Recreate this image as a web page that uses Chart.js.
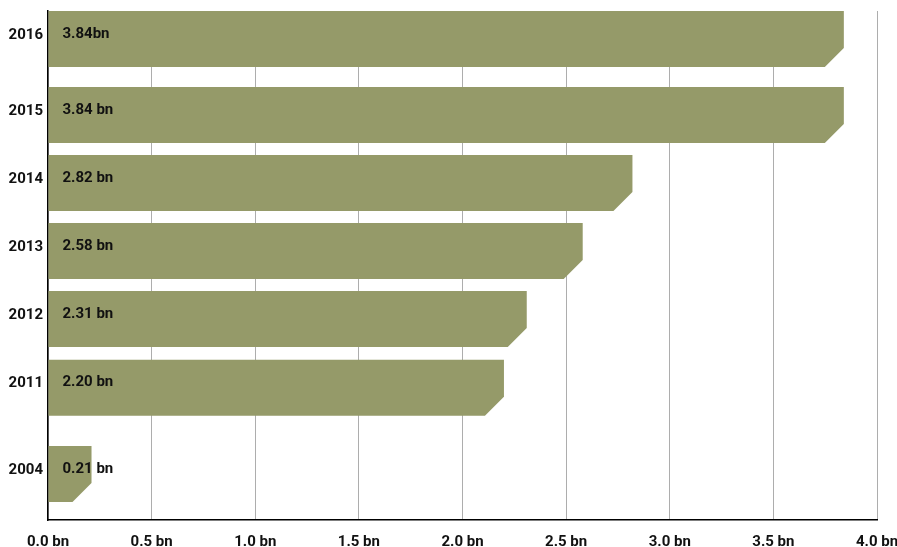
<!DOCTYPE html>
<html lang="en">
<head>
    <meta charset="UTF-8">
    <title>Annual totals, 2004 and 2011–2016</title>
    <script src="https://cdn.jsdelivr.net/npm/chart.js"></script>
    <style>
        html, body { margin: 0; padding: 0; background: #fff; }
        .chart-box { width: 897px; height: 547px; position: relative; }
    </style>
</head>
<body>
<div class="chart-box">
    <canvas id="totalsChart"></canvas>
</div>
<script>
    // Years shown, top to bottom
    const years = ['2016', '2015', '2014', '2013', '2012', '2011', '2004'];
    // Totals in billions
    const totals = [3.84, 3.84, 2.82, 2.58, 2.31, 2.20, 0.21];
    // Text printed inside each bar
    const barLabels = ['3.84bn', '3.84 bn', '2.82 bn', '2.58 bn', '2.31 bn', '2.20 bn', '0.21 bn'];
    // Value axis ticks
    const xTicks = [0, 0.5, 1, 1.5, 2, 2.5, 3, 3.5, 4];

    // Row slots on the category axis (the jump before 2004 marks the gap in years)
    const rowPos = [0, 1.12, 2.12, 3.12, 4.12, 5.13, 6.40];

    const barColor = '#959a69';
    const gridColor = 'rgba(60, 60, 60, 0.42)';
    const fontFamily = 'Roboto, "DejaVu Sans", sans-serif';
    const cut = 19; // size of the chamfer on the bottom-right corner

    // Draws each bar as a box with a clipped lower-right corner, plus its label
    const chamferBars = {
        id: 'chamferBars',
        afterDatasetsDraw(chart) {
            const ctx = chart.ctx;
            const meta = chart.getDatasetMeta(0);
            ctx.save();
            meta.data.forEach((bar, i) => {
                const p = bar.getProps(['x', 'y', 'base', 'height'], true);
                const top = p.y - p.height / 2;
                const bottom = p.y + p.height / 2;
                const c = Math.min(cut, p.x - p.base);
                ctx.fillStyle = barColor;
                ctx.beginPath();
                ctx.moveTo(p.base, top);
                ctx.lineTo(p.x, top);
                ctx.lineTo(p.x, bottom - c);
                ctx.lineTo(p.x - c, bottom);
                ctx.lineTo(p.base, bottom);
                ctx.closePath();
                ctx.fill();

                ctx.fillStyle = '#111';
                ctx.font = 'bold 15px ' + fontFamily;
                ctx.textAlign = 'left';
                ctx.textBaseline = 'middle';
                ctx.fillText(barLabels[i], p.base + 14, p.y - 5);
            });
            ctx.restore();
        }
    };

    function drawChart() {
        const ctx = document.getElementById('totalsChart').getContext('2d');
        new Chart(ctx, {
            type: 'bar',
            data: {
                datasets: [{
                    data: totals.map((v, i) => ({ x: v, y: rowPos[i] })),
                    backgroundColor: 'rgba(0,0,0,0)',
                    borderWidth: 0,
                    barThickness: 56
                }]
            },
            options: {
                indexAxis: 'y',
                responsive: true,
                maintainAspectRatio: false,
                animation: false,
                layout: { padding: { top: 11, right: 0, left: 0, bottom: 0 } },
                plugins: {
                    legend: { display: false },
                    tooltip: { enabled: false }
                },
                scales: {
                    x: {
                        type: 'linear',
                        min: 0,
                        max: 4,
                        z: 1,
                        afterBuildTicks: scale => {
                            scale.ticks = xTicks.map(v => ({ value: v }));
                        },
                        afterFit: scale => {
                            scale.height = 27;
                            scale.paddingRight = 20;
                        },
                        grid: { color: gridColor, lineWidth: 1, drawTicks: false },
                        border: { display: true, color: '#000', width: 1.5 },
                        ticks: {
                            padding: 13,
                            color: '#111',
                            font: { family: fontFamily, size: 15, weight: 'bold' },
                            callback: v => v.toFixed(1) + ' bn'
                        }
                    },
                    y: {
                        type: 'linear',
                        reverse: true,
                        offset: false,
                        min: -0.41,
                        max: 7.075,
                        afterBuildTicks: scale => {
                            scale.ticks = rowPos.map(v => ({ value: v }));
                        },
                        afterFit: scale => {
                            scale.width = 48;
                            scale.paddingTop = 0;
                            scale.paddingBottom = 0;
                        },
                        grid: { display: false, drawTicks: false },
                        border: { display: true, color: '#000', width: 1.5 },
                        ticks: {
                            autoSkip: false,
                            padding: 5,
                            labelOffset: -4,
                            color: '#111',
                            font: { family: fontFamily, size: 15, weight: 'bold' },
                            callback: (v, i) => years[i]
                        }
                    }
                }
            },
            plugins: [chamferBars]
        });
    }

    window.onload = drawChart;
</script>
</body>
</html>
